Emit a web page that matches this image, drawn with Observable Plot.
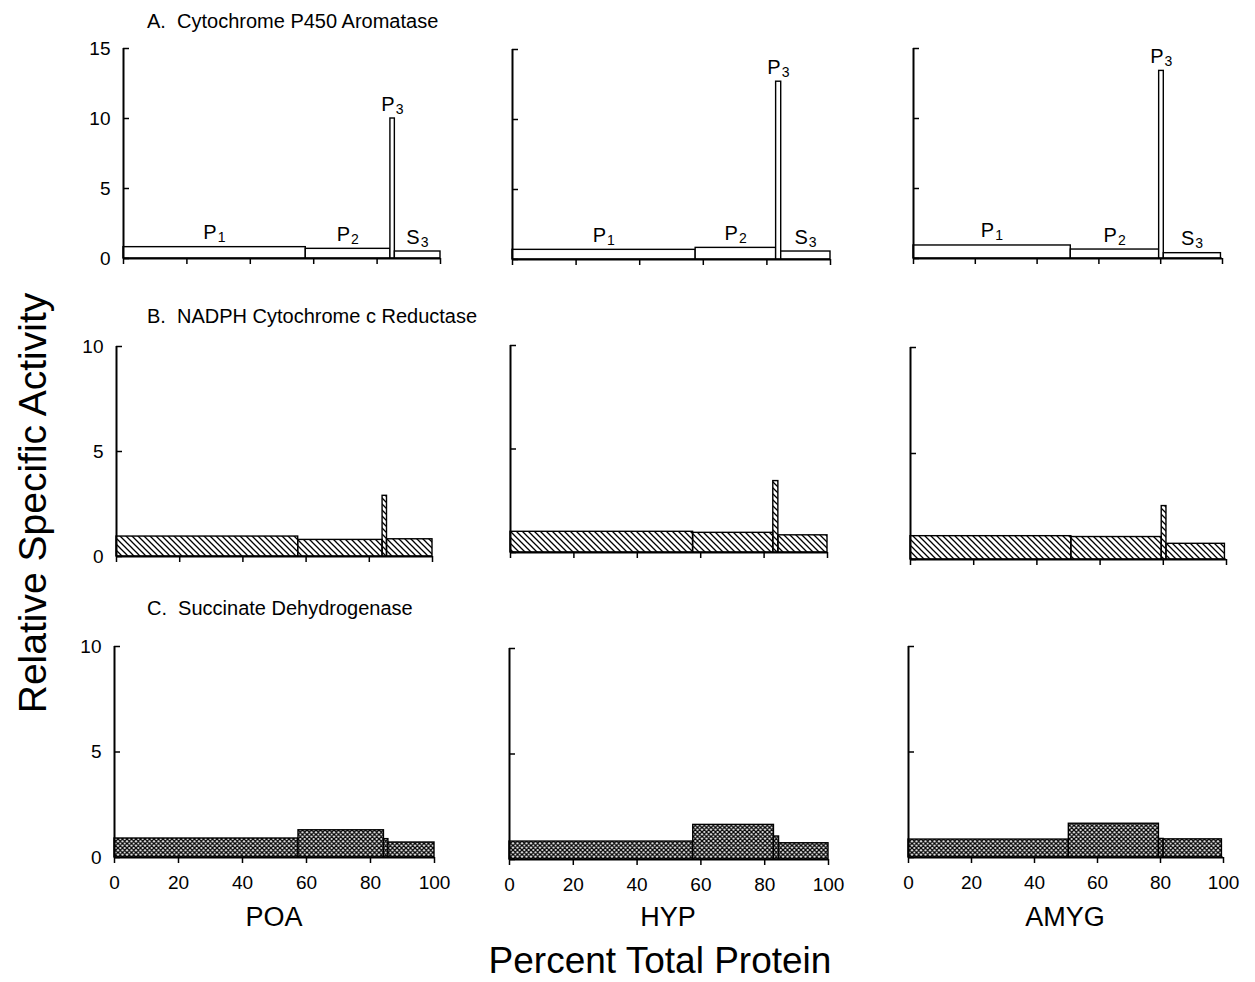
<!DOCTYPE html>
<html><head><meta charset="utf-8">
<script src="https://cdn.jsdelivr.net/npm/d3@7"></script>
<script src="https://cdn.jsdelivr.net/npm/@observablehq/plot@0.6"></script>
<style>
html,body{margin:0;padding:0;background:#fff;}
#fig{position:relative;width:1255px;height:982px;overflow:hidden;font-family:"Liberation Sans",Arial,sans-serif;}
#fig .panel{position:absolute;}
#fig svg{display:block;overflow:visible;}
</style></head><body>
<svg width="0" height="0" style="position:absolute;left:0;top:0">
<defs>
<pattern id="hatch" patternUnits="userSpaceOnUse" width="6" height="6">
<path d="M-1,-1L7,7M-1,5L1,7M5,-1L7,1" stroke="#000" stroke-width="1.3" fill="none"/>
</pattern>
<pattern id="cross" patternUnits="userSpaceOnUse" width="4.5" height="4.5">
<rect width="4.5" height="4.5" fill="#fff"/>
<path d="M-1,-1L5.5,5.5M-1,3.5L1,5.5M3.5,-1L5.5,1M-1,5.5L5.5,-1M-1,1L1,-1M3.5,5.5L5.5,3.5" stroke="#000" stroke-width="1.35" fill="none"/>
</pattern>
</defs></svg>
<div id="fig"></div>
<script>
// ---- data ----
const regions = ["POA", "HYP", "AMYG"];
const fractions = ["P1", "P2", "P3", "S3"];
// percent of total protein in each fraction
const proteinPOA  = [57.5, 26.7, 1.4, 14.4];
const proteinHYP  = [57.6, 25.3, 1.6, 15.5];
const proteinAMYG = [50.9, 28.6, 1.5, 18.5];
// relative specific activity
const aromatasePOA  = [0.81, 0.69, 10.0, 0.50];
const aromataseHYP  = [0.69, 0.83, 12.7, 0.57];
const aromataseAMYG = [0.93, 0.64, 13.4, 0.38];
const reductasePOA  = [0.95, 0.79, 2.89, 0.82];
const reductaseHYP  = [1.00, 0.95, 3.45, 0.83];
const reductaseAMYG = [1.10, 1.06, 2.52, 0.74];
const succinatePOA  = [0.90, 1.29, 0.87, 0.71];
const succinateHYP  = [0.85, 1.64, 1.09, 0.77];
const succinateAMYG = [0.85, 1.60, 0.88, 0.86];
const assayTitles = ["A.  Cytochrome P450 Aromatase", "B.  NADPH Cytochrome c Reductase", "C.  Succinate Dehydrogenase"];
const xTicks = [0, 20, 40, 60, 80, 100];
const yTicksA = [0, 5, 10, 15];
const yTicksBC = [0, 5, 10];
const yTitle = "Relative Specific Activity";
const xTitle = "Percent Total Protein";

// ---- layout ----
const FONT = '"Liberation Sans", Arial, sans-serif';
const protein = [proteinPOA, proteinHYP, proteinAMYG];
const rows = [
  {yMax: 15, yTicks: yTicksA, fill: "white", values: [aromatasePOA, aromataseHYP, aromataseAMYG], labels: true, xLabels: false},
  {yMax: 10, yTicks: yTicksBC, fill: "url(#hatch)", values: [reductasePOA, reductaseHYP, reductaseAMYG], labels: false, xLabels: false},
  {yMax: 10, yTicks: yTicksBC, fill: "url(#cross)", values: [succinatePOA, succinateHYP, succinateAMYG], labels: false, xLabels: true}
];
const geom = [
  [{x0:123,x1:440,yt:48,yb:258},{x0:512,x1:830,yt:49,yb:259},{x0:913,x1:1222,yt:48,yb:258}],
  [{x0:116,x1:432,yt:346,yb:556},{x0:510,x1:827,yt:345,yb:552},{x0:910,x1:1226,yt:347,yb:559}],
  [{x0:114,x1:434,yt:646,yb:857},{x0:509,x1:828,yt:648,yb:859},{x0:908,x1:1223,yt:646,yb:857}]
];
const fig = document.getElementById("fig");
const mL = 50, mR = 26, mT = 14, mB = 50;

rows.forEach((row, r) => regions.forEach((reg, c) => {
  const g = geom[r][c];
  const pct = protein[c];
  let cum = 0;
  const data = fractions.map((f, i) => {
    const d = {fraction: f, x1: cum, x2: cum + pct[i], value: row.values[c][i]};
    cum += pct[i];
    return d;
  });
  const mid = d => (d.x1 + d.x2) / 2;
  const marks = [
    Plot.rect(data, {x1: "x1", x2: "x2", y1: () => 0, y2: "value", fill: row.fill, stroke: "#000", strokeWidth: 1.4, inset: 0})
  ];
  if (row.labels) {
    marks.push(
      Plot.text(data, {x: mid, y: "value", text: d => d.fraction[0], textAnchor: "end", dx: 2, dy: -8, lineAnchor: "bottom", fontSize: 20}),
      Plot.text(data, {x: mid, y: "value", text: d => d.fraction[1], textAnchor: "start", dx: 3, dy: -5, lineAnchor: "bottom", fontSize: 14})
    );
  }
  marks.push(
    Plot.ruleX([0], {strokeWidth: 2}),
    Plot.ruleY([0], {strokeWidth: 2}),
    Plot.axisY({ticks: row.yTicks, tickSize: -6, tickPadding: 19, fontSize: 19, strokeWidth: 1.5,
      tickFormat: c === 0 ? (d => String(d)) : (() => ""), label: null}),
    Plot.axisX({ticks: xTicks, tickSize: 6, tickPadding: 12, fontSize: 19, strokeWidth: 1.5,
      tickFormat: row.xLabels ? (d => String(d)) : (() => ""), label: null})
  );
  const chart = Plot.plot({
    width: g.x1 - g.x0 + mL + mR,
    height: g.yb - g.yt + mT + mB,
    marginLeft: mL, marginRight: mR, marginTop: mT, marginBottom: mB,
    x: {domain: [0, 100], label: null},
    y: {domain: [0, row.yMax], label: null},
    style: {fontFamily: FONT, color: "#000", background: "transparent", overflow: "visible"},
    marks
  });
  const div = document.createElement("div");
  div.className = "panel";
  div.style.left = (g.x0 - mL) + "px";
  div.style.top = (g.yt - mT) + "px";
  div.appendChild(chart);
  fig.appendChild(div);
}));

// ---- overlay text ----
const overlay = d3.select(fig).append("svg")
  .attr("width", 1255).attr("height", 982)
  .style("position", "absolute").style("left", 0).style("top", 0)
  .style("pointer-events", "none")
  .attr("font-family", FONT).attr("fill", "#000");
const titleBase = [28, 323, 615];
assayTitles.forEach((t, i) => {
  overlay.append("text").attr("x", 147).attr("y", titleBase[i])
    .attr("font-size", 20).attr("xml:space", "preserve").style("white-space", "pre").text(t);
});
const regionX = [274, 668, 1065];
regions.forEach((reg, i) => {
  overlay.append("text").attr("x", regionX[i]).attr("y", 926)
    .attr("text-anchor", "middle").attr("font-size", 27).text(reg);
});
overlay.append("text").attr("x", 660).attr("y", 973)
  .attr("text-anchor", "middle").attr("font-size", 37).text(xTitle);
overlay.append("text").attr("transform", "translate(46,503) rotate(-90)")
  .attr("text-anchor", "middle").attr("font-size", 39).text(yTitle);
</script>
</body></html>
